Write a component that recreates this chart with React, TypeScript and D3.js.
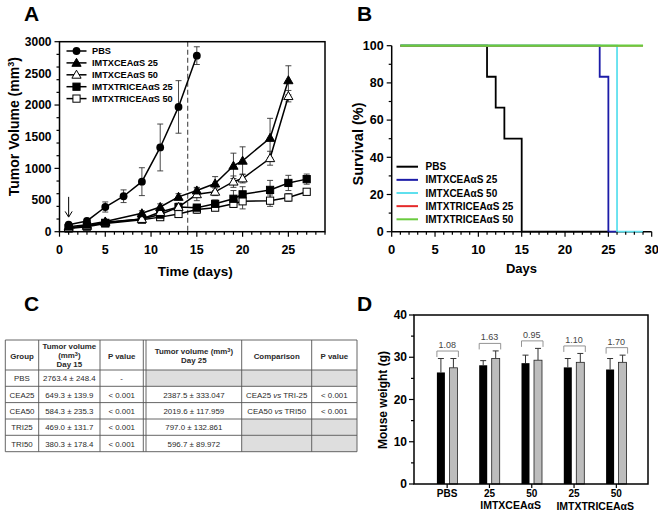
import React from 'react'
import * as d3 from 'd3'

const FONT = '"Liberation Sans", Arial, sans-serif'

// ---------- A: tumor volume ----------
const pbsDays = [1, 3, 5, 7, 9, 11, 13, 15]
const treatDays = [1, 3, 5, 9, 11, 13, 15, 17, 19, 20, 23, 25]
const triDays = [1, 3, 5, 9, 11, 13, 15, 17, 19, 20, 23, 25, 27]

const pbsVol = [110, 170, 390, 560, 790, 1330, 1970, 2780]
const pbsErr = [20, 30, 80, 100, 220, 370, 415, 140]
const cea25Vol = [80, 110, 160, 290, 390, 550, 650, 760, 1040, 1120, 1480, 2390]
const cea25Err = [10, 15, 20, 40, 50, 50, 50, 110, 200, 220, 310, 230]
const cea50Vol = [60, 90, 150, 200, 310, 390, 590, 630, 790, 840, 1160, 2140]
const cea50Err = [10, 15, 20, 30, 40, 50, 100, 60, 90, 70, 110, 90]
const tri25Vol = [60, 90, 140, 200, 270, 390, 380, 440, 520, 590, 660, 770, 830]
const tri25Err = [10, 15, 20, 30, 40, 60, 50, 60, 130, 120, 150, 120, 80]
const tri50Vol = [50, 80, 130, 190, 230, 280, 350, 380, 440, 480, 490, 540, 630]
const tri50Err = [10, 10, 15, 20, 30, 40, 60, 50, 40, 120, 90, 60, 30]

const seriesNames = ['PBS', 'IMTXCEAαS 25', 'IMTXCEAαS 50', 'IMTXTRICEAαS 25', 'IMTXTRICEAαS 50']
const markerShapes = ['circle', 'tri', 'triOpen', 'square', 'squareOpen']

// ---------- B: survival ----------
const survPbsDays = [1, 11, 12, 13, 15, 25]
const survPbs = [100, 83.3, 66.7, 50, 0, 0]
const survCea25Days = [1, 24, 25, 26]
const survCea25 = [100, 83.3, 0, 0]
const survCea50Days = [1, 26, 29]
const survCea50 = [100, 0, 0]
const survTri25Days = [1, 29]
const survTri25 = [100, 100]
const survTri50Days = [1, 29]
const survTri50 = [100, 100]
const survColors = ['#000000', '#1c1ca8', '#5fe0ee', '#e52a2a', '#6acb3e']
const survWidths = [1.8, 1.8, 1.8, 1.4, 2.3]

// ---------- C: table ----------
const tblGroups = ['PBS', 'CEA25', 'CEA50', 'TRI25', 'TRI50']
const tblDay15 = ['2763.4 ± 248.4', '649.3 ± 139.9', '584.3 ± 235.3', '469.0 ± 131.7', '380.3 ± 178.4']
const tblP15 = ['-', '< 0.001', '< 0.001', '< 0.001', '< 0.001']
const tblDay25 = ['', '2387.5 ± 333.047', '2019.6 ± 117.959', '797.0 ± 132.861', '596.7 ± 89.972']
const tblCompA = ['', 'CEA25', 'CEA50', '', '']
const tblCompB = ['', 'TRI-25', 'TRI50', '', '']
const tblP25 = ['', '< 0.001', '< 0.001', '', '']

// ---------- D: mouse weight ----------
const wGroups = ['PBS', '25', '50', '25 ', '50 ']
const wBefore = [26.4, 28.1, 28.6, 27.6, 27.1]
const wBeforeErr = [3.3, 1.1, 1.9, 2.1, 2.6]
const wAfter = [27.5, 29.7, 29.3, 28.8, 28.8]
const wAfterErr = [2.2, 1.8, 2.8, 2.1, 1.7]
const wRatio = ['1.08', '1.63', '0.95', '1.10', '1.70']

function Marker ({ shape, cx, cy }: { shape: string, cx: number, cy: number }) {
  const open = shape.endsWith('Open')
  const fill = open ? '#fff' : '#000'
  if (shape === 'circle') return <circle cx={cx} cy={cy} r={3.9} fill='#000' />
  if (shape.startsWith('tri')) {
    const p = `${cx},${cy - 4.6} ${cx + 4.6},${cy + 3.4} ${cx - 4.6},${cy + 3.4}`
    return <polygon points={p} fill={fill} stroke='#000' strokeWidth={1} />
  }
  return <rect x={cx - 3.6} y={cy - 3.6} width={7.2} height={7.2} fill={fill} stroke='#000' strokeWidth={1} />
}

function PanelA () {
  const x = d3.scaleLinear().domain([0, 29]).range([59.5, 325])
  const y = d3.scaleLinear().domain([0, 3000]).range([231.7, 41.7])
  const series = [
    { days: pbsDays, vol: pbsVol, err: pbsErr },
    { days: treatDays, vol: cea25Vol, err: cea25Err },
    { days: treatDays, vol: cea50Vol, err: cea50Err },
    { days: triDays, vol: tri25Vol, err: tri25Err },
    { days: triDays, vol: tri50Vol, err: tri50Err }
  ]
  const [x0, x1] = x.range()
  const [y0, y1] = y.range()
  const drawOrder = [4, 3, 2, 1, 0]
  return (
    <g fontFamily={FONT}>
      <text x={24} y={21} fontSize={21} fontWeight='bold'>A</text>
      {/* dashed day-14 marker */}
      <line x1={x(14)} x2={x(14)} y1={y1} y2={y0} stroke='#555' strokeWidth={1.2} strokeDasharray='5,3' />
      {/* arrow at treatment start */}
      <line x1={x(1)} x2={x(1)} y1={y(550)} y2={y(240)} stroke='#000' strokeWidth={1} />
      <path d={`M${x(1) - 3.5},${y(320)} L${x(1)},${y(230)} L${x(1) + 3.5},${y(320)}`} fill='none' stroke='#000' strokeWidth={1} />
      {drawOrder.map(si => {
        const s = series[si]
        return (
          <g key={'e' + si} stroke='#333' strokeWidth={0.9}>
            {s.days.map((d, i) => (
              <g key={i}>
                <line x1={x(d)} x2={x(d)} y1={y(s.vol[i] - s.err[i])} y2={y(s.vol[i] + s.err[i])} />
                <line x1={x(d) - 3} x2={x(d) + 3} y1={y(s.vol[i] + s.err[i])} y2={y(s.vol[i] + s.err[i])} />
                <line x1={x(d) - 3} x2={x(d) + 3} y1={y(s.vol[i] - s.err[i])} y2={y(s.vol[i] - s.err[i])} />
              </g>
            ))}
          </g>
        )
      })}
      {drawOrder.map(si => {
        const s = series[si]
        const pts = s.days.map((d, i) => [x(d), y(s.vol[i])] as [number, number])
        return (
          <g key={'l' + si}>
            <path d={d3.line()(pts) || ''} fill='none' stroke='#000' strokeWidth={1.5} />
            {pts.map((p, i) => <Marker key={i} shape={markerShapes[si]} cx={p[0]} cy={p[1]} />)}
          </g>
        )
      })}
      {/* frame */}
      <rect x={x0} y={y1} width={x1 - x0} height={y0 - y1} fill='none' stroke='#000' strokeWidth={1.5} />
      {y.ticks(12).map(t => (
        <line key={'ym' + t} x1={x0} x2={x0 - (t % 500 === 0 ? 5 : 3)} y1={y(t)} y2={y(t)} stroke='#000' strokeWidth={1.2} />
      ))}
      {y.ticks(6).map(t => (
        <text key={'yl' + t} x={x0 - 8} y={y(t)} dy='0.35em' textAnchor='end' fontSize={12} fontWeight='bold'>{t}</text>
      ))}
      {d3.range(0, 30).map(t => (
        <line key={'xm' + t} x1={x(t)} x2={x(t)} y1={y0} y2={y0 + (t % 5 === 0 ? 5 : 3)} stroke='#000' strokeWidth={1.2} />
      ))}
      {d3.range(0, 30, 5).map(t => (
        <text key={'xl' + t} x={x(t)} y={254} textAnchor='middle' fontSize={12.5} fontWeight='bold'>{t}</text>
      ))}
      <text x={(x0 + x1) / 2 + 3} y={276} textAnchor='middle' fontSize={13.5} fontWeight='bold'>Time (days)</text>
      <text transform={`translate(19,${(y0 + y1) / 2 - 10}) rotate(-90)`} textAnchor='middle' fontSize={14} fontWeight='bold'>
        Tumor Volume (mm<tspan dy={-5} fontSize={9}>3</tspan><tspan dy={5}>)</tspan>
      </text>
      {/* legend */}
      {seriesNames.map((n, i) => {
        const ly = 51 + i * 11.9
        return (
          <g key={'lg' + n}>
            <line x1={66.5} x2={86.5} y1={ly} y2={ly} stroke='#000' strokeWidth={1.5} />
            <Marker shape={markerShapes[i]} cx={76.5} cy={ly} />
            <text x={92} y={ly} dy='0.35em' fontSize={9.2} fontWeight='bold'>{n}</text>
          </g>
        )
      })}
    </g>
  )
}

function PanelB () {
  const x = d3.scaleLinear().domain([0, 30]).range([391.7, 651.7])
  const y = d3.scaleLinear().domain([0, 100]).range([231.7, 45.7])
  const curves = [
    { d: survPbsDays, s: survPbs },
    { d: survCea25Days, s: survCea25 },
    { d: survCea50Days, s: survCea50 },
    { d: survTri25Days, s: survTri25 },
    { d: survTri50Days, s: survTri50 }
  ]
  const line = d3.line<[number, number]>().x(p => x(p[0])).y(p => y(p[1])).curve(d3.curveStepAfter)
  return (
    <g fontFamily={FONT}>
      <text x={357} y={21} fontSize={21} fontWeight='bold'>B</text>
      <line x1={x(0)} x2={x(0)} y1={y(0)} y2={y(100)} stroke='#000' strokeWidth={1.5} />
      <line x1={x(0)} x2={x(30)} y1={y(0)} y2={y(0)} stroke='#000' strokeWidth={1.5} />
      {curves.map((c, i) => (
        <path key={i} d={line(c.d.map((d, k) => [d, c.s[k]] as [number, number])) || ''} fill='none' stroke={survColors[i]} strokeWidth={survWidths[i]} />
      ))}
      {d3.range(0, 101, 10).map(t => (
        <line key={'yt' + t} x1={x(0)} x2={x(0) - (t % 20 === 0 ? 5 : 3)} y1={y(t)} y2={y(t)} stroke='#000' strokeWidth={1.2} />
      ))}
      {d3.range(0, 101, 20).map(t => (
        <text key={'yl' + t} x={x(0) - 8} y={y(t)} dy='0.35em' textAnchor='end' fontSize={12.5} fontWeight='bold'>{t}</text>
      ))}
      {d3.range(0, 31).map(t => (
        <line key={'xt' + t} x1={x(t)} x2={x(t)} y1={y(0)} y2={y(0) + (t % 5 === 0 ? 5 : 3)} stroke='#000' strokeWidth={1.2} />
      ))}
      {d3.range(0, 31, 5).map(t => (
        <text key={'xl' + t} x={x(t)} y={254} textAnchor='middle' fontSize={13} fontWeight='bold'>{t}</text>
      ))}
      <text x={521.5} y={273} textAnchor='middle' fontSize={13} fontWeight='bold'>Days</text>
      <text transform={`translate(363,144) rotate(-90)`} textAnchor='middle' fontSize={14.5} fontWeight='bold'>Survival (%)</text>
      {seriesNames.map((n, i) => {
        const ly = 166.7 + i * 13.15
        return (
          <g key={'lg' + n}>
            <line x1={396.5} x2={418} y1={ly} y2={ly} stroke={survColors[i]} strokeWidth={2} />
            <text x={425.5} y={ly} dy='0.35em' fontSize={10} fontWeight='bold'>{n}</text>
          </g>
        )
      })}
    </g>
  )
}

function TableC () {
  const cols = [5.3, 38.7, 100, 143.3, 146, 241.7, 311.7, 357]
  const rows = [340, 370, 386.3, 402.6, 419, 435.3, 451.7]
  const colCenter = (a: number, b: number) => (cols[a] + cols[b]) / 2
  const fs = 7.9
  const grayCells: [number, number][] = []
  tblDay25.forEach((v, r) => { if (!v) grayCells.push([r, 4]) })
  tblCompA.forEach((v, r) => { if (!v) { grayCells.push([r, 5]); grayCells.push([r, 6]) } })
  return (
    <g fontFamily={FONT} fill='#2a2a2a'>
      <text x={24} y={311} fontSize={21} fontWeight='bold' fill='#000'>C</text>
      {grayCells.map(([r, c], i) => (
        <rect key={i} x={cols[c]} y={rows[r + 1]} width={cols[c + 1] - cols[c]} height={rows[r + 2] - rows[r + 1]} fill='#dedede' />
      ))}
      {rows.map((ry, i) => (
        <line key={'r' + i} x1={cols[0]} x2={cols[cols.length - 1]} y1={ry} y2={ry} stroke='#555' strokeWidth={0.9} />
      ))}
      {cols.map((cx, i) => (
        <line key={'c' + i} x1={cx} x2={cx} y1={rows[0]} y2={rows[rows.length - 1]} stroke='#555' strokeWidth={0.9} />
      ))}
      <g fontWeight='bold' fontSize={fs} textAnchor='middle'>
        <text x={colCenter(0, 1)} y={356} dy='0.35em'>Group</text>
        <text x={colCenter(1, 2)} y={346} dy='0.35em'>Tumor volume</text>
        <text x={colCenter(1, 2)} y={355.3} dy='0.35em'>(mm<tspan dy={-2.5} fontSize={5.5}>3</tspan><tspan dy={2.5}>)</tspan></text>
        <text x={colCenter(1, 2)} y={364.3} dy='0.35em'>Day 15</text>
        <text x={colCenter(2, 3)} y={356} dy='0.35em'>P value</text>
        <text x={colCenter(4, 5)} y={351.5} dy='0.35em'>Tumor volume (mm<tspan dy={-2.5} fontSize={5.5}>3</tspan><tspan dy={2.5}>)</tspan></text>
        <text x={colCenter(4, 5)} y={360.7} dy='0.35em'>Day 25</text>
        <text x={colCenter(5, 6)} y={356} dy='0.35em'>Comparison</text>
        <text x={colCenter(6, 7)} y={356} dy='0.35em'>P value</text>
      </g>
      <g fontSize={fs} textAnchor='middle'>
        {tblGroups.map((g, r) => {
          const cy = (rows[r + 1] + rows[r + 2]) / 2 + 0.5
          return (
            <g key={g}>
              <text x={colCenter(0, 1)} y={cy} dy='0.35em'>{g}</text>
              <text x={colCenter(1, 2)} y={cy} dy='0.35em'>{tblDay15[r]}</text>
              <text x={colCenter(2, 3)} y={cy} dy='0.35em'>{tblP15[r]}</text>
              <text x={colCenter(4, 5)} y={cy} dy='0.35em'>{tblDay25[r]}</text>
              {tblCompA[r] && (
                <text x={colCenter(5, 6)} y={cy} dy='0.35em'>{tblCompA[r]} <tspan fontStyle='italic'>vs</tspan> {tblCompB[r]}</text>
              )}
              <text x={colCenter(6, 7)} y={cy} dy='0.35em'>{tblP25[r]}</text>
            </g>
          )
        })}
      </g>
    </g>
  )
}

function PanelD () {
  const x0 = d3.scaleBand<string>().domain(wGroups).range([426, 637.5]).paddingInner(0).paddingOuter(0)
  const x1 = d3.scaleBand<string>().domain(['before', 'after']).range([0, 20.5]).paddingInner(0.36)
  const y = d3.scaleLinear().domain([0, 40]).range([484, 315])
  const left = 414
  const right = 648
  const inset = (x0.bandwidth() - 20.5) / 2
  return (
    <g fontFamily={FONT}>
      <text x={357} y={311} fontSize={21} fontWeight='bold'>D</text>
      {wGroups.map((g, i) => {
        const gx = (x0(g) || 0) + inset
        const bx = gx + (x1('before') || 0)
        const ax = gx + (x1('after') || 0)
        const bw = x1.bandwidth()
        const topB = y(wBefore[i] + wBeforeErr[i])
        const topA = y(wAfter[i] + wAfterErr[i])
        const brTop = Math.min(topB, topA) - 7.5
        return (
          <g key={g}>
            <line x1={bx + bw / 2} x2={bx + bw / 2} y1={y(wBefore[i])} y2={topB} stroke='#333' strokeWidth={1} />
            <line x1={bx + bw / 2 - 3} x2={bx + bw / 2 + 3} y1={topB} y2={topB} stroke='#333' strokeWidth={1} />
            <line x1={ax + bw / 2} x2={ax + bw / 2} y1={y(wAfter[i])} y2={topA} stroke='#333' strokeWidth={1} />
            <line x1={ax + bw / 2 - 3} x2={ax + bw / 2 + 3} y1={topA} y2={topA} stroke='#333' strokeWidth={1} />
            <rect x={bx} y={y(wBefore[i])} width={bw} height={y(0) - y(wBefore[i])} fill='#000' />
            <rect x={ax} y={y(wAfter[i])} width={bw} height={y(0) - y(wAfter[i])} fill='#bdbdbd' stroke='#222' strokeWidth={0.8} />
            <path d={`M${bx},${brTop + 6} V${brTop} H${ax + bw + 1} V${brTop + 6}`} fill='none' stroke='#888' strokeWidth={0.9} />
            <text x={(bx + ax + bw) / 2} y={brTop - 3} textAnchor='middle' fontSize={9} fill='#444'>{wRatio[i]}</text>
            <line x1={gx + 10.25} x2={gx + 10.25} y1={484} y2={488} stroke='#000' strokeWidth={1.2} />
            <text x={gx + 10.25} y={497} textAnchor='middle' fontSize={10} fontWeight='bold'>{g.trim()}</text>
          </g>
        )
      })}
      <rect x={left} y={315} width={right - left} height={169} fill='none' stroke='#000' strokeWidth={1.5} />
      {d3.range(0, 41, 5).map(t => (
        <line key={'yt' + t} x1={left} x2={left - (t % 10 === 0 ? 5 : 3)} y1={y(t)} y2={y(t)} stroke='#000' strokeWidth={1.2} />
      ))}
      {y.ticks(4).map(t => (
        <text key={'yl' + t} x={left - 7} y={y(t)} dy='0.35em' textAnchor='end' fontSize={12} fontWeight='bold'>{t}</text>
      ))}
      <text x={((x0(wGroups[1]) || 0) + (x0(wGroups[2]) || 0)) / 2 + x0.bandwidth() / 2} y={509} textAnchor='middle' fontSize={10.5} fontWeight='bold'>IMTXCEAαS</text>
      <text x={((x0(wGroups[3]) || 0) + (x0(wGroups[4]) || 0)) / 2 + x0.bandwidth() / 2} y={510} textAnchor='middle' fontSize={10.5} fontWeight='bold'>IMTXTRICEAαS</text>
      <text transform='translate(387,400) rotate(-90)' textAnchor='middle' fontSize={12} fontWeight='bold'>Mouse weight (g)</text>
    </g>
  )
}

export default function App () {
  return (
    <svg width={658} height={515} style={{ position: 'absolute', left: 0, top: 0, background: '#fff' }}>
      <rect width={658} height={515} fill='#fff' />
      <PanelA />
      <PanelB />
      <TableC />
      <PanelD />
    </svg>
  )
}
